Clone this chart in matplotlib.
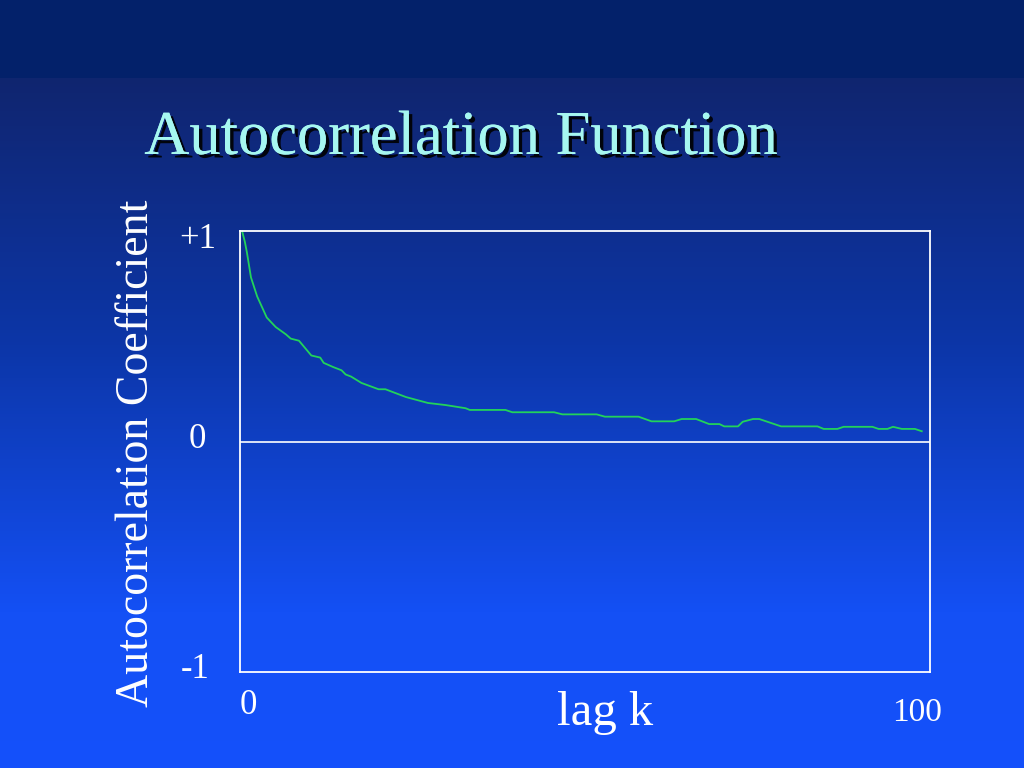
import matplotlib
matplotlib.use("Agg")
import matplotlib.pyplot as plt
import matplotlib.patheffects as pe
import numpy as np
from matplotlib.colors import LinearSegmentedColormap

# ACF values (lag, coefficient)
lags = [0, 0.4, 0.7, 1.3, 2.2, 3.6, 4.9, 6.4, 7.1, 8.3, 10.1, 11.4, 11.9, 13.3,
        14.5, 15.1, 15.9, 17.4, 19.9, 20.9, 23.9, 27.1, 29.7, 32.6, 33.2, 38.4,
        39.4, 45.5, 46.7, 51.7, 52.9, 57.8, 59.7, 63.0, 64.1, 66.2, 68.1, 69.6,
        70.3, 72.3, 73.0, 74.5, 75.4, 78.6, 83.9, 84.8, 86.8, 87.7, 91.9, 92.8,
        94.1, 94.9, 96.2, 98.1, 99.1]
acf = [1.00, 0.95, 0.90, 0.78, 0.69, 0.59, 0.545, 0.51, 0.49, 0.48, 0.41, 0.40,
       0.375, 0.355, 0.34, 0.32, 0.31, 0.28, 0.25, 0.25, 0.213, 0.185, 0.175,
       0.16, 0.152, 0.152, 0.141, 0.141, 0.131, 0.131, 0.12, 0.12, 0.098, 0.098,
       0.109, 0.109, 0.085, 0.085, 0.074, 0.074, 0.096, 0.109, 0.109, 0.074,
       0.074, 0.062, 0.062, 0.072, 0.072, 0.062, 0.062, 0.072, 0.062, 0.062,
       0.051]

title = "Autocorrelation Function"
ylabel = "Autocorrelation Coefficient"
xlabel = "lag k"
ytick_labels = ["+1", "0", "-1"]
xtick_labels = ["0", "100"]

plt.rcParams['font.family'] = ['Liberation Serif', 'DejaVu Serif']

fig = plt.figure(figsize=(10.24, 7.68), dpi=100)

# slide background: dark band on top, then blue gradient
bg = fig.add_axes([0, 0, 1, 1], zorder=-10)
bg.axis('off')
grad_cmap = LinearSegmentedColormap.from_list(
    "slide", [(0.0, "#03216a"), (0.099, "#03216a"), (0.101, "#10256f"),
              (0.45, "#0c36a8"), (0.80, "#1450f5"), (1.0, "#1450fb")])
grad = np.linspace(0, 1, 768).reshape(-1, 1)
bg.imshow(grad, aspect='auto', cmap=grad_cmap, extent=[0, 1, 0, 1], origin='upper')
bg.set_xlim(0, 1)
bg.set_ylim(0, 1)

# plot box
ax = fig.add_axes([240 / 1024, 1 - 672 / 768, 690 / 1024, 441 / 768])
ax.set_facecolor('none')
ax.plot(lags, acf, color="#22d35a", linewidth=1.3, clip_on=False)
ax.axhline(0, color="white", linewidth=1.2)
ax.set_xlim(-0.3, 100.3)
ax.set_ylim(-1.09, 1.0)
ax.set_xticks([])
ax.set_yticks([])
for s in ax.spines.values():
    s.set_color("white")
    s.set_linewidth(1.3)

# tick labels as slide text
def px(x, y):
    return x / 1024, 1 - y / 768

fig.text(*px(198, 239), ytick_labels[0], color="white", fontsize=25, ha='center', va='center')
fig.text(*px(197, 440), ytick_labels[1], color="white", fontsize=25, ha='center', va='center')
fig.text(*px(195, 670), ytick_labels[2], color="white", fontsize=25, ha='center', va='center')
fig.text(*px(248, 705), xtick_labels[0], color="white", fontsize=25, ha='center', va='center')
fig.text(*px(917, 713), xtick_labels[1], color="white", fontsize=24, ha='center', va='center')

fig.text(*px(605, 713), xlabel, color="white", fontsize=35, ha='center', va='center')
fig.text(*px(137, 453), ylabel, color="white", fontsize=33, ha='center', va='center',
         rotation=90)

fig.text(*px(461, 154), title, color="#a6f7f0", fontsize=45, ha='center', va='baseline',
         path_effects=[pe.withSimplePatchShadow(offset=(2.5, -2.5), shadow_rgbFace='black',
                                                alpha=0.9), pe.Normal()])

fig.savefig("out.png", dpi=100)
